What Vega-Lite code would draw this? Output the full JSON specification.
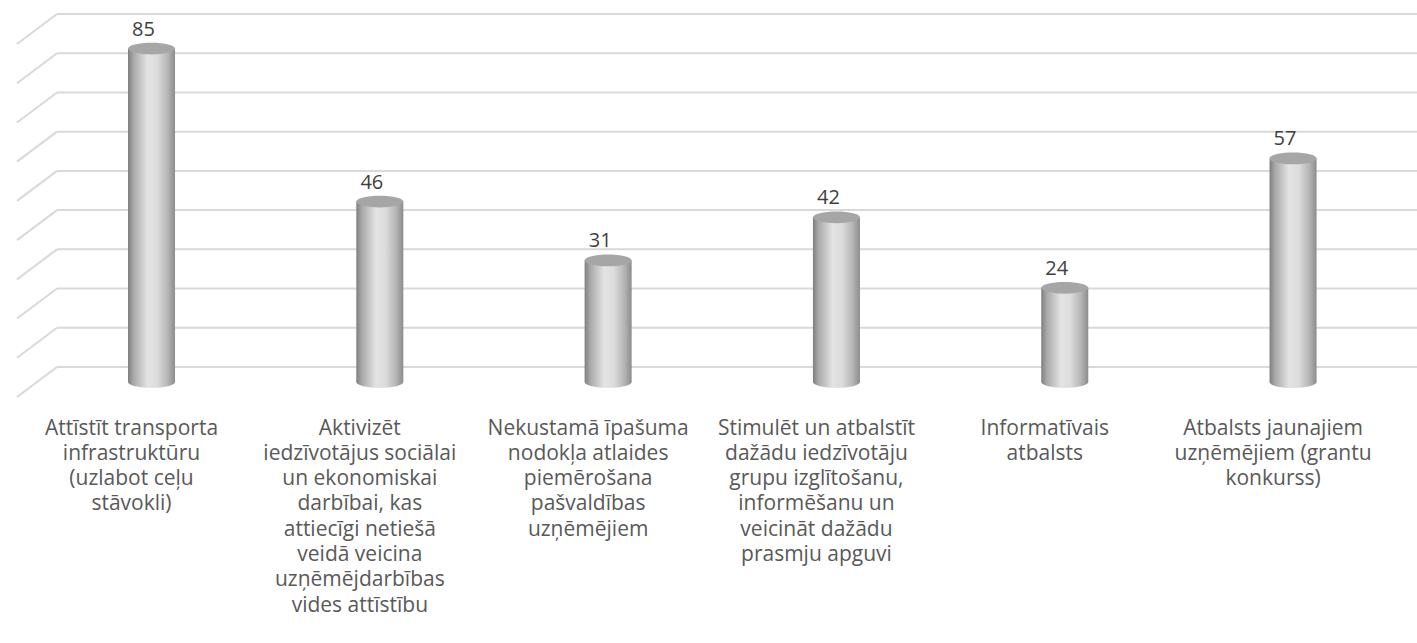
{
  "$schema": "https://vega.github.io/schema/vega-lite/v6.json",
  "width": 1400,
  "height": 353,
  "autosize": {"type": "none"},
  "padding": {"left": 17, "top": 29, "right": 0, "bottom": 261},
  "background": "white",
  "config": {"view": {"stroke": null}, "font": "Open Sans"},
  "resolve": {"scale": {"x": "independent"}},
  "layer": [
    {
      "data": {"values": [{"v": 0}, {"v": 10}, {"v": 20}, {"v": 30}, {"v": 40}, {"v": 50}, {"v": 60}, {"v": 70}, {"v": 80}, {"v": 90}]},
      "layer": [
        {
          "mark": {"type": "rule", "color": "#d9d9d9", "strokeWidth": 2, "yOffset": 15, "y2Offset": -15},
          "encoding": {
            "x": {"datum": 0, "type": "quantitative", "scale": {"domain": [0, 35]}, "axis": null},
            "x2": {"datum": 1},
            "y": {"field": "v", "type": "quantitative", "scale": {"domain": [0, 90]}, "axis": null},
            "y2": {"field": "v"}
          }
        },
        {
          "mark": {"type": "rule", "color": "#d9d9d9", "strokeWidth": 2, "yOffset": -15, "y2Offset": -15},
          "encoding": {
            "x": {"datum": 1, "type": "quantitative", "scale": {"domain": [0, 35]}, "axis": null},
            "x2": {"datum": 35},
            "y": {"field": "v", "type": "quantitative", "scale": {"domain": [0, 90]}, "axis": null},
            "y2": {"field": "v"}
          }
        }
      ]
    },
    {
      "data": {"values": [
        {"category": "Attīstīt transporta\ninfrastruktūru\n(uzlabot ceļu\nstāvokli)", "value": 85},
        {"category": "Aktivizēt\niedzīvotājus sociālai\nun ekonomiskai\ndarbībai, kas\nattiecīgi netiešā\nveidā veicina\nuzņēmējdarbības\nvides attīstību", "value": 46},
        {"category": "Nekustamā īpašuma\nnodokļa atlaides\npiemērošana\npašvaldības\nuzņēmējiem", "value": 31},
        {"category": "Stimulēt un atbalstīt\ndažādu iedzīvotāju\ngrupu izglītošanu,\ninformēšanu un\nveicināt dažādu\nprasmju apguvi", "value": 42},
        {"category": "Informatīvais\natbalsts", "value": 24},
        {"category": "Atbalsts jaunajiem\nuzņēmējiem (grantu\nkonkurss)", "value": 57}
      ]},
      "encoding": {
        "x": {
          "field": "category", "type": "nominal", "sort": null,
          "scale": {"paddingInner": 0.794, "paddingOuter": 0.463, "align": 0.525},
          "axis": {
            "title": null, "labelAngle": 0, "ticks": false, "domain": false, "grid": false,
            "labelExpr": "split(datum.label, '\\n')",
            "labelFont": "Open Sans", "labelFontSize": 21, "labelColor": "#595959",
            "labelLineHeight": 25.3, "labelPadding": 35, "labelOffset": -20, "labelLimit": 0
          }
        },
        "y": {"field": "value", "type": "quantitative", "scale": {"domain": [0, 90]}, "axis": null}
      },
      "layer": [
        {
          "mark": {
            "type": "bar",
            "fill": {"gradient": "linear", "x1": 0, "x2": 1, "y1": 0, "y2": 0,
              "stops": [
                {"offset": 0, "color": "#7f7f7f"},
                {"offset": 0.12, "color": "#a9a9a9"},
                {"offset": 0.42, "color": "#e4e4e4"},
                {"offset": 0.62, "color": "#dcdcdc"},
                {"offset": 0.85, "color": "#b4b4b4"},
                {"offset": 1, "color": "#8c8c8c"}
              ]}
          }
        },
        {
          "mark": {
            "type": "point", "filled": true, "size": 2209, "opacity": 1, "strokeWidth": 0,
            "shape": "M-1,0A1,0.25,0,1,0,1,0A1,0.25,0,1,0,-1,0Z",
            "fill": {"gradient": "linear", "x1": 0, "x2": 1, "y1": 0, "y2": 0,
              "stops": [
                {"offset": 0, "color": "#7f7f7f"},
                {"offset": 0.12, "color": "#a9a9a9"},
                {"offset": 0.42, "color": "#e4e4e4"},
                {"offset": 0.62, "color": "#dcdcdc"},
                {"offset": 0.85, "color": "#b4b4b4"},
                {"offset": 1, "color": "#8c8c8c"}
              ]}
          },
          "encoding": {"y": {"datum": 0, "type": "quantitative"}}
        },
        {
          "mark": {
            "type": "point", "filled": true, "size": 2209, "opacity": 1, "strokeWidth": 0,
            "shape": "M-1,0A1,0.25,0,1,0,1,0A1,0.25,0,1,0,-1,0Z",
            "fill": "#a6a6a6"
          }
        },
        {
          "mark": {"type": "text", "font": "Open Sans", "fontSize": 20, "color": "#404040", "baseline": "alphabetic", "dy": -13, "dx": -8},
          "encoding": {"text": {"field": "value", "type": "quantitative"}}
        }
      ]
    }
  ]
}
